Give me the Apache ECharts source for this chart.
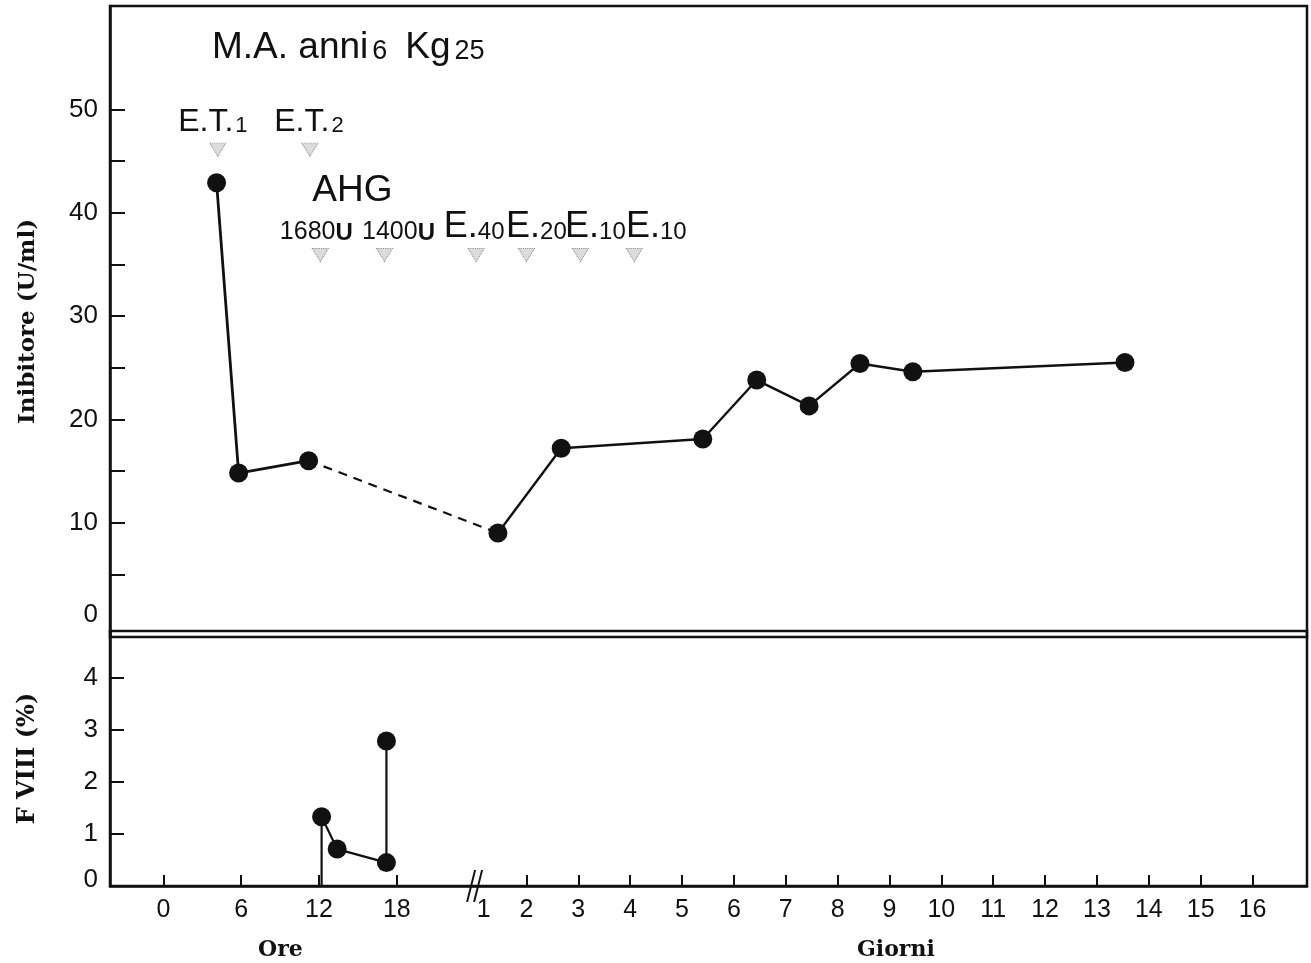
<!DOCTYPE html>
<html><head><meta charset="utf-8">
<script src="https://cdn.jsdelivr.net/npm/echarts@6/dist/echarts.min.js"></script>
<style>html,body{margin:0;padding:0;background:#fff}#c{width:1311px;height:963px}</style>
</head><body><div id="c"></div>
<script>
// ---------------- data ----------------
const hourTickLabels = [0, 6, 12, 18];
const dayTickLabels = [1, 2, 3, 4, 5, 6, 7, 8, 9, 10, 11, 12, 13, 14, 15, 16];

// Inibitore (U/ml)
const inhibitorHours = [4.1, 5.8, 11.2];
const inhibitorHoursValues = [42.9, 14.8, 16.0];
const inhibitorDays = [1.45, 2.67, 5.40, 6.44, 7.45, 8.43, 9.45, 13.54];
const inhibitorDaysValues = [9.0, 17.2, 18.1, 23.8, 21.3, 25.4, 24.6, 25.5];

// F VIII (%)
const f8Hours = [12.2, 12.2, 13.4, 17.2, 17.2];
const f8Values = [0, 1.33, 0.71, 0.45, 2.79];

// treatments
const exchangeHours = [4.2, 11.3];          // E.T.
const exchangeLabels = ['1', '2'];
const ahgHours = [12.1, 17.05];             // AHG doses
const ahgDoses = ['1680', '1400'];
const infusionDays = [1.03, 2.0, 3.04, 4.08];
const infusionDoses = ['40', '20', '10', '10'];

const titleMain = 'M.A. anni';
const titleAge = '6';
const titleWeightUnit = 'Kg';
const titleWeight = '25';

// ---------------- axis mapping (broken time axis) ----------------
const fromHours = h => h / 4;       // 6 h = 1.5 units
const fromDays = d => d + 5;        // 1 day = 1 unit after the break
const toLabel = u => (u <= 4.5 + 1e-6) ? String(Math.round(u * 4)) : String(Math.round(u - 5));

const xLabelVals = hourTickLabels.map(fromHours).concat(dayTickLabels.map(fromDays));
const xTickVals = hourTickLabels.map(fromHours).concat(dayTickLabels.slice(1).map(fromDays));

// ---------------- styling ----------------
const INK = '#111';
const SANS = '"Liberation Sans", Arial, sans-serif';
const SERIF = '"DejaVu Serif", "Liberation Serif", serif';
const ET_LEVEL = 46.1, DOSE_LEVEL = 35.9;
const etOffsets = [[-5, 0], [-1, 0]];
const ahgOffsets = [[-4, 0], [14, 0]];
const infOffsets = [[-2, 0], [10, 0], [15, 0], [22, 0]];

const tri = {
  type: 'scatter', symbol: 'triangle', symbolRotate: 180, symbolSize: [16, 13],
  itemStyle: { color: '#dcdcdc', borderColor: '#8a8a8a', borderWidth: 1, borderType: 'dotted', opacity: 1 },
  xAxisIndex: 0, yAxisIndex: 0, z: 3
};

const richBig = { fontFamily: SANS, fontSize: 32, color: INK, verticalAlign: 'bottom', lineHeight: 36 };
const richSmall = { fontFamily: SANS, fontSize: 22, color: INK, verticalAlign: 'bottom', lineHeight: 36, padding: [0, 0, 1, 2] };

const option = {
  animation: false,
  backgroundColor: '#fff',
  title: {
    left: 207, top: 19,
    text: '{b|' + titleMain + '}{s|' + titleAge + '}{g| }{b|' + titleWeightUnit + '}{s|' + titleWeight + '}',
    textStyle: {
      fontWeight: 'normal',
      rich: {
        b: { fontFamily: SANS, fontSize: 37, fontWeight: 'normal', color: INK, verticalAlign: 'bottom', lineHeight: 42 },
        s: { fontFamily: SANS, fontSize: 27, fontWeight: 'normal', color: INK, verticalAlign: 'bottom', lineHeight: 42, padding: [0, 0, 1, 4] },
        g: { fontFamily: SANS, fontSize: 37, color: INK, verticalAlign: 'bottom', lineHeight: 42, width: 18 }
      }
    }
  },
  graphic: [
    { type: 'text', left: 258, top: 939, style: { text: 'Ore', font: 'bold 22px ' + SERIF, fill: INK } },
    { type: 'text', left: 857, top: 939, style: { text: 'Giorni', font: 'bold 22px ' + SERIF, fill: INK } }
  ],
  grid: [
    { left: 110, top: 6, width: 1197, height: 631, show: true, borderColor: INK, borderWidth: 2.5 },
    { left: 110, top: 631, width: 1197, height: 255, show: true, borderColor: INK, borderWidth: 2.5 }
  ],
  xAxis: [
    { gridIndex: 0, type: 'value', min: -1.03, max: 22.05, show: false },
    {
      gridIndex: 1, type: 'value', min: -1.03, max: 22.05,
      axisLine: { show: true, onZero: false, lineStyle: { color: INK, width: 2.5 } },
      axisTick: { show: true, inside: true, length: 11, customValues: xTickVals, lineStyle: { color: INK, width: 2 } },
      axisLabel: {
        show: true, customValues: xLabelVals, margin: 12,
        formatter: v => { const t = toLabel(v); return (v > 4.6 && t === '1') ? '{one|1}' : t; },
        color: INK, fontFamily: SANS, fontSize: 25,
        rich: { one: { fontFamily: SANS, fontSize: 25, color: INK, padding: [0, 0, 0, 18] } }
      },
      splitLine: { show: false }
    }
  ],
  yAxis: [
    {
      gridIndex: 0, type: 'value', min: -1.065, max: 60,
      axisLine: { show: true, onZero: false, lineStyle: { color: INK, width: 2.5 } },
      axisTick: { show: true, inside: true, length: 15, customValues: [5, 10, 15, 20, 25, 30, 35, 40, 45, 50], lineStyle: { color: INK, width: 2 } },
      axisLabel: {
        show: true, customValues: [0, 10, 20, 30, 40, 50], margin: 12,
        formatter: v => v === 0 ? '{z|0}' : String(v),
        color: INK, fontFamily: SANS, fontSize: 26,
        rich: { z: { fontFamily: SANS, fontSize: 26, color: INK, padding: [0, 0, 22, 0] } }
      },
      splitLine: { show: false },
      name: 'Inibitore (U/ml)', nameLocation: 'middle', nameGap: 70,
      nameTextStyle: { fontFamily: SERIF, fontWeight: 'bold', fontSize: 23, color: INK }
    },
    {
      gridIndex: 1, type: 'value', min: 0, max: 4.904,
      axisLine: { show: true, onZero: false, lineStyle: { color: INK, width: 2.5 } },
      axisTick: { show: true, inside: true, length: 14, customValues: [1, 2, 3, 4], lineStyle: { color: INK, width: 2 } },
      axisLabel: {
        show: true, customValues: [0, 1, 2, 3, 4], margin: 12,
        formatter: v => v === 0 ? '{z|0}' : String(v),
        color: INK, fontFamily: SANS, fontSize: 26,
        rich: { z: { fontFamily: SANS, fontSize: 26, color: INK, padding: [0, 0, 12, 0] } }
      },
      splitLine: { show: false },
      name: 'F VIII (%)', nameLocation: 'middle', nameGap: 70,
      nameTextStyle: { fontFamily: SERIF, fontWeight: 'bold', fontSize: 24, color: INK }
    }
  ],
  series: [
    {
      type: 'line', xAxisIndex: 0, yAxisIndex: 0, z: 4,
      data: inhibitorHours.map((h, i) => [fromHours(h), inhibitorHoursValues[i]]),
      symbol: 'circle', symbolSize: 19, itemStyle: { color: INK },
      lineStyle: { color: INK, width: 2.8 }
    },
    {
      type: 'line', xAxisIndex: 0, yAxisIndex: 0, z: 3, showSymbol: false, symbol: 'none',
      data: [
        [fromHours(inhibitorHours[inhibitorHours.length - 1]), inhibitorHoursValues[inhibitorHoursValues.length - 1]],
        [fromDays(inhibitorDays[0]), inhibitorDaysValues[0]]
      ],
      lineStyle: { color: INK, width: 2.2, type: [9, 7] }
    },
    {
      type: 'line', xAxisIndex: 0, yAxisIndex: 0, z: 4,
      data: inhibitorDays.map((d, i) => [fromDays(d), inhibitorDaysValues[i]]),
      symbol: 'circle', symbolSize: 19, itemStyle: { color: INK },
      lineStyle: { color: INK, width: 2.4 }
    },
    Object.assign({}, tri, {
      data: exchangeHours.map((h, i) => ({
        value: [fromHours(h), ET_LEVEL], sub: exchangeLabels[i],
        label: { offset: etOffsets[i] }
      })),
      label: {
        show: true, position: 'top', distance: 5, color: INK, opacity: 1,
        formatter: p => '{b|E.T.}{s|' + p.data.sub + '}',
        rich: { b: richBig, s: richSmall }
      }
    }),
    Object.assign({}, tri, {
      data: ahgHours.map((h, i) => ({
        value: [fromHours(h), DOSE_LEVEL], kind: 'u', dose: ahgDoses[i],
        label: { offset: ahgOffsets[i] }
      })).concat(infusionDays.map((d, i) => ({
        value: [fromDays(d), DOSE_LEVEL], kind: 'e', dose: infusionDoses[i],
        label: { offset: infOffsets[i] }
      }))),
      label: {
        show: true, position: 'top', distance: 3, color: INK, opacity: 1,
        formatter: p => p.data.kind === 'u'
          ? '{n|' + p.data.dose + '}{u|U}'
          : '{b|E.}{d|' + p.data.dose + '}',
        rich: {
          n: { fontFamily: SANS, fontSize: 25, color: INK, verticalAlign: 'bottom', lineHeight: 38 },
          u: { fontFamily: SANS, fontSize: 24, fontWeight: 'bold', color: INK, verticalAlign: 'bottom', lineHeight: 38 },
          b: { fontFamily: SANS, fontSize: 36, color: INK, verticalAlign: 'bottom', lineHeight: 38 },
          d: { fontFamily: SANS, fontSize: 24, color: INK, verticalAlign: 'bottom', lineHeight: 38, padding: [0, 0, 1, 0] }
        }
      }
    }),
    {
      type: 'scatter', xAxisIndex: 0, yAxisIndex: 0, symbolSize: 0, silent: true,
      itemStyle: { opacity: 1 },
      data: [[(fromHours(ahgHours[0]) + fromHours(ahgHours[1])) / 2, DOSE_LEVEL]],
      label: {
        show: true, position: 'top', distance: 0, offset: [0, -46],
        formatter: 'AHG', fontFamily: SANS, fontSize: 37, color: INK, opacity: 1
      }
    },
    {
      type: 'line', xAxisIndex: 1, yAxisIndex: 1, z: 4,
      data: f8Hours.map((h, i) => i === 0
        ? { value: [fromHours(h), f8Values[i]], symbolSize: 0 }
        : [fromHours(h), f8Values[i]]),
      symbol: 'circle', symbolSize: 19, itemStyle: { color: INK },
      lineStyle: { color: INK, width: 2.2 }
    },
    {
      type: 'scatter', xAxisIndex: 1, yAxisIndex: 1, z: 5, silent: true,
      data: [[fromDays(dayTickLabels[0]), 0]],
      symbol: 'path://M0,32L8,0L10,0L2,32Z M7,32L15,0L17,0L9,32Z',
      symbolSize: [17, 32],
      itemStyle: { color: INK, opacity: 1 }
    }
  ]
};

const chart = echarts.init(document.getElementById('c'), null, { renderer: 'canvas' });
chart.setOption(option);
</script>
</body></html>
